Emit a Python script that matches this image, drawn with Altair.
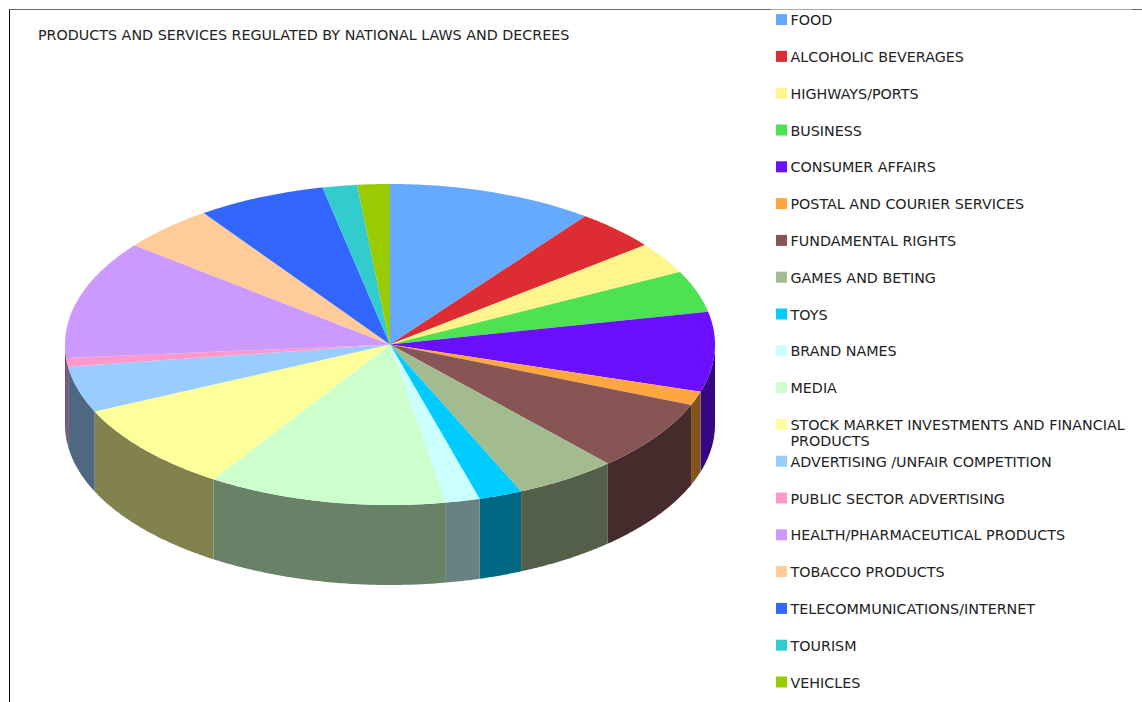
import math

import altair as alt
import pandas as pd

categories = [
    "FOOD", "ALCOHOLIC BEVERAGES", "HIGHWAYS/PORTS", "BUSINESS", "CONSUMER AFFAIRS",
    "POSTAL AND COURIER SERVICES", "FUNDAMENTAL RIGHTS", "GAMES AND BETING", "TOYS",
    "BRAND NAMES", "MEDIA", "STOCK MARKET INVESTMENTS AND FINANCIAL\nPRODUCTS",
    "ADVERTISING /UNFAIR COMPETITION", "PUBLIC SECTOR ADVERTISING",
    "HEALTH/PHARMACEUTICAL PRODUCTS", "TOBACCO PRODUCTS", "TELECOMMUNICATIONS/INTERNET",
    "TOURISM", "VEHICLES",
]
shares = [
    10.25, 4.11, 3.17, 4.19, 8.03, 1.39, 7.17, 5.08, 2.17, 1.69,
    11.89, 9.00, 4.64, 0.89, 11.94, 4.67, 6.39, 1.72, 1.61,
]
colors = [
    "#66aaff", "#dd2d32", "#fff58c", "#4de350", "#6a0fff", "#ffa640", "#885555",
    "#a3bc8f", "#00ccff", "#ccffff", "#ccffcc", "#ffff99", "#99ccff", "#ff99cc",
    "#cc99ff", "#ffcc99", "#3366ff", "#33cccc", "#99cc00",
]

TITLE = "PRODUCTS AND SERVICES REGULATED BY NATIONAL LAWS AND DECREES"
W, H = 1142, 702
CX, CY, RX, RY, DEPTH = 390, 344.5, 325, 160.5, 80
FONT = "DejaVu Sans"
FONT_SIZE = 14.3
INK = "#222222"


def rim(deg, drop=0.0):
    a = math.radians(deg)
    return CX + RX * math.sin(a), CY - RY * math.cos(a) + drop


def darker(hex_color, k=0.51):
    r, g, b = (int(hex_color[i:i + 2], 16) for i in (1, 3, 5))
    return "#%02x%02x%02x" % (int(r * k), int(g * k), int(b * k))


def arc(t0, t1, drop=0.0):
    steps = max(2, int((t1 - t0) / 0.5) + 1)
    return [rim(t0 + (t1 - t0) * i / (steps - 1), drop) for i in range(steps)]


# Wedge outlines are derived from the cumulative shares on a flattened ellipse.
total = sum(shares)
rows, edge = [], 0.0
walls, tops = [], []
for name, share, color in zip(categories, shares, colors):
    t0, t1 = edge, edge + share / total * 360
    edge = t1
    lo, hi = max(t0, 90.0), min(t1, 270.0)
    if lo < hi:
        walls.append((name, darker(color), arc(lo, hi) + arc(lo, hi, DEPTH)[::-1]))
    tops.append((name, color, [(CX, CY)] + arc(t0, t1)))

# Side walls are painted first so that the lid sits over them.
for kind, shapes in (("wall", walls), ("top", tops)):
    for name, fill, pts in shapes:
        for i, (px, py) in enumerate(pts):
            rows.append({"key": f"{kind}-{name}", "fill": fill, "px": px, "py": py, "i": i})
pie_df = pd.DataFrame(rows)

pie = alt.Chart(pie_df).mark_line(
    interpolate="linear-closed", filled=True, strokeWidth=0
).encode(
    x=alt.X("px:Q", axis=None, scale=alt.Scale(domain=[0, W], range=[0, W], nice=False, zero=False)),
    y=alt.Y("py:Q", axis=None, scale=alt.Scale(domain=[0, H], range=[0, H], nice=False, zero=False)),
    detail="key:N",
    fill=alt.Fill("fill:N", scale=None),
    order="i:Q",
)

legend_df = pd.DataFrame({
    "name": categories,
    "color": colors,
    "row": list(range(len(categories))),
})
row_y = alt.Y(
    "row:Q", axis=None,
    scale=alt.Scale(domain=[0, 18], range=[19.6, 682.0], nice=False, zero=False),
)
swatches = alt.Chart(legend_df).mark_square(size=121, opacity=1).encode(
    x=alt.value(781.5), y=row_y, color=alt.Color("color:N", scale=None),
)
labels = alt.Chart(legend_df).mark_text(
    align="left", baseline="top", dy=-5.5, font=FONT, fontSize=FONT_SIZE, color=INK,
    lineBreak="\n", lineHeight=16,
).encode(x=alt.value(790.5), y=row_y, text="name:N")

frame_df = pd.DataFrame({"title": [TITLE]})
left_edge = alt.Chart(frame_df).mark_rule(color="#000000", strokeWidth=1).encode(
    x=alt.value(9.5), y=alt.value(9), y2=alt.value(H)
)
top_edge = alt.Chart(frame_df).mark_rule(color="#666666", strokeWidth=1).encode(
    x=alt.value(9), x2=alt.value(W), y=alt.value(9.5)
)
top_edge_pale = alt.Chart(frame_df).mark_rule(color="#aaaaaa", strokeWidth=1).encode(
    x=alt.value(771), x2=alt.value(1132), y=alt.value(9.5)
)
title = alt.Chart(frame_df).mark_text(
    align="left", baseline="middle", font=FONT, fontSize=FONT_SIZE, color=INK
).encode(x=alt.value(38), y=alt.value(35.5), text="title:N")

chart = alt.layer(
    left_edge, top_edge, top_edge_pale, pie, title, swatches, labels
).resolve_scale(y="independent", x="independent", color="independent").properties(
    width=W, height=H, padding=0, autosize=alt.AutoSizeParams(type="none"), background="white",
).configure_view(stroke=None)

chart.save("out.html", embed_options={"renderer": "svg", "actions": False})
